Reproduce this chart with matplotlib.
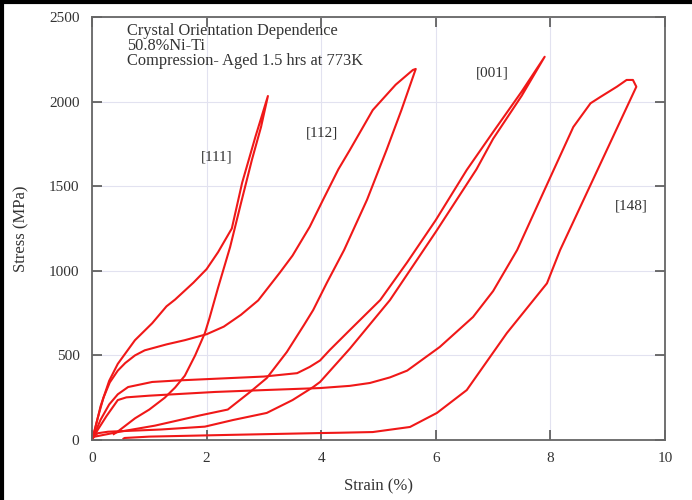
import matplotlib
matplotlib.use('Agg')
import matplotlib.pyplot as plt
from matplotlib.lines import Line2D

# strain (%) / stress (MPa)
s111_load_x = [0, 0.05, 0.15, 0.3, 0.45, 0.75, 1.05, 1.3, 1.45, 1.77, 2.0, 2.2, 2.44, 2.62, 2.85, 3.07]
s111_load_y = [0, 60, 200, 350, 450, 590, 690, 790, 830, 930, 1010, 1110, 1250, 1520, 1790, 2033]
s111_unl_x = [3.07, 2.95, 2.79, 2.6, 2.41, 2.2, 2.05, 1.97, 1.8, 1.62, 1.45, 1.27, 1.0, 0.75, 0.45, 0.38]
s111_unl_y = [2033, 1850, 1655, 1400, 1140, 900, 720, 632, 500, 380, 310, 250, 180, 128, 50, 35]

s112_load_x = [0, 0.1, 0.2, 0.31, 0.45, 0.58, 0.75, 0.92, 1.3, 1.62, 2.0, 2.3, 2.6, 2.9, 3.28, 3.5, 3.8, 4.03, 4.3, 4.5, 4.9, 5.3, 5.6, 5.65]
s112_load_y = [0, 130, 250, 340, 410, 455, 500, 530, 565, 590, 625, 670, 740, 825, 990, 1090, 1260, 1418, 1600, 1714, 1950, 2100, 2187, 2193]
s112_unl_x = [5.65, 5.4, 5.14, 4.8, 4.4, 4.1, 3.86, 3.7, 3.4, 3.05, 2.76, 2.37, 1.88, 1.1, 0.5, 0.05]
s112_unl_y = [2193, 1950, 1714, 1420, 1123, 930, 768, 680, 520, 366, 284, 180, 145, 85, 50, 20]

s001_load_x = [0, 0.15, 0.3, 0.45, 0.63, 1.05, 1.5, 2.15, 3.0, 3.58, 3.8, 3.98, 4.15, 4.5, 5.03, 5.5, 6.0, 6.54, 7.0, 7.5, 7.9]
s001_load_y = [0, 120, 210, 270, 313, 343, 352, 362, 375, 395, 432, 470, 532, 650, 827, 1050, 1300, 1596, 1820, 2060, 2265]
s001_unl_x = [7.9, 7.5, 7.0, 6.71, 6.0, 5.2, 4.5, 3.98, 3.86, 3.5, 3.05, 2.46, 1.97, 1.2, 0.28, 0.1, 0.03]
s001_unl_y = [2265, 2035, 1780, 1600, 1230, 827, 540, 343, 313, 236, 160, 118, 79, 62, 49, 40, 20]

s148_load_x = [0, 0.1, 0.25, 0.45, 0.6, 1.0, 2.15, 3.0, 3.98, 4.5, 4.85, 5.2, 5.5, 6.07, 6.65, 7.0, 7.42, 7.9, 8.4, 8.7, 8.87, 9.16, 9.33, 9.44, 9.5]
s148_load_y = [0, 60, 140, 236, 252, 262, 284, 295, 307, 320, 337, 370, 410, 550, 727, 880, 1123, 1480, 1850, 1990, 2027, 2088, 2128, 2128, 2088]
s148_unl_x = [9.5, 8.8, 8.17, 7.94, 7.24, 6.54, 6.02, 5.55, 4.9, 4.33, 3.98, 2.37, 1.0, 0.57, 0.55]
s148_unl_y = [2088, 1580, 1123, 926, 632, 295, 160, 77, 47, 43, 41, 30, 20, 12, 8]

loops = [
    (s111_load_x + s111_unl_x, s111_load_y + s111_unl_y),
    (s112_load_x + s112_unl_x, s112_load_y + s112_unl_y),
    (s001_load_x + s001_unl_x, s001_load_y + s001_unl_y),
    (s148_load_x + s148_unl_x, s148_load_y + s148_unl_y),
]

labels = ['[111]', '[112]', '[001]', '[148]']
label_x = [2.18, 4.01, 6.98, 9.42]
label_y = [1673, 1814, 2169, 1383]

notes = ['Crystal Orientation Dependence', '50.8%Ni-Ti', 'Compression- Aged 1.5 hrs at 773K']

plt.rcParams['font.family'] = ['Liberation Serif', 'DejaVu Serif']

fig = plt.figure(figsize=(6.92, 5.0), dpi=100)
ax = fig.add_axes([92/692, 60/500, 573/692, 423/500])

for xs, ys in loops:
    ax.plot(xs, ys, color='#f01818', lw=1.5, solid_joinstyle='round')

for lab, lx, ly in zip(labels, label_x, label_y):
    ax.text(lx, ly, lab, ha='center', va='center', fontsize=11, color='#333333')

for i, t in enumerate(notes):
    ax.text(0.061, 0.986 - i * 0.0355, t, transform=ax.transAxes, fontsize=11.8,
            color='#333333', va='top', ha='left')

ax.set_xlim(0, 10)
ax.set_ylim(0, 2500)
ax.set_xticks([0, 2, 4, 6, 8, 10])
ax.set_yticks([0, 500, 1000, 1500, 2000, 2500])
ax.grid(True, color='#e2e2f0', lw=0.8)
ax.set_axisbelow(True)
ax.tick_params(direction='in', top=True, right=True, length=7, width=1.2,
               color='#555555', labelsize=11, labelcolor='#333333')
ax.tick_params(axis='x', pad=9)
ax.tick_params(axis='y', pad=9)
for sp in ax.spines.values():
    sp.set_color('#666666')
    sp.set_linewidth(1.3)

ax.set_xlabel('Strain (%)', fontsize=12, color='#333333', labelpad=9)
ax.set_ylabel('Stress (MPa)', fontsize=12, color='#333333', labelpad=14)

# black frame edges of the original scan
fig.add_artist(Line2D([0.003, 0.003], [0, 1], color='black', lw=3, transform=fig.transFigure))
fig.add_artist(Line2D([0, 1], [0.997, 0.997], color='black', lw=3, transform=fig.transFigure))

fig.savefig('out.png', dpi=100)
